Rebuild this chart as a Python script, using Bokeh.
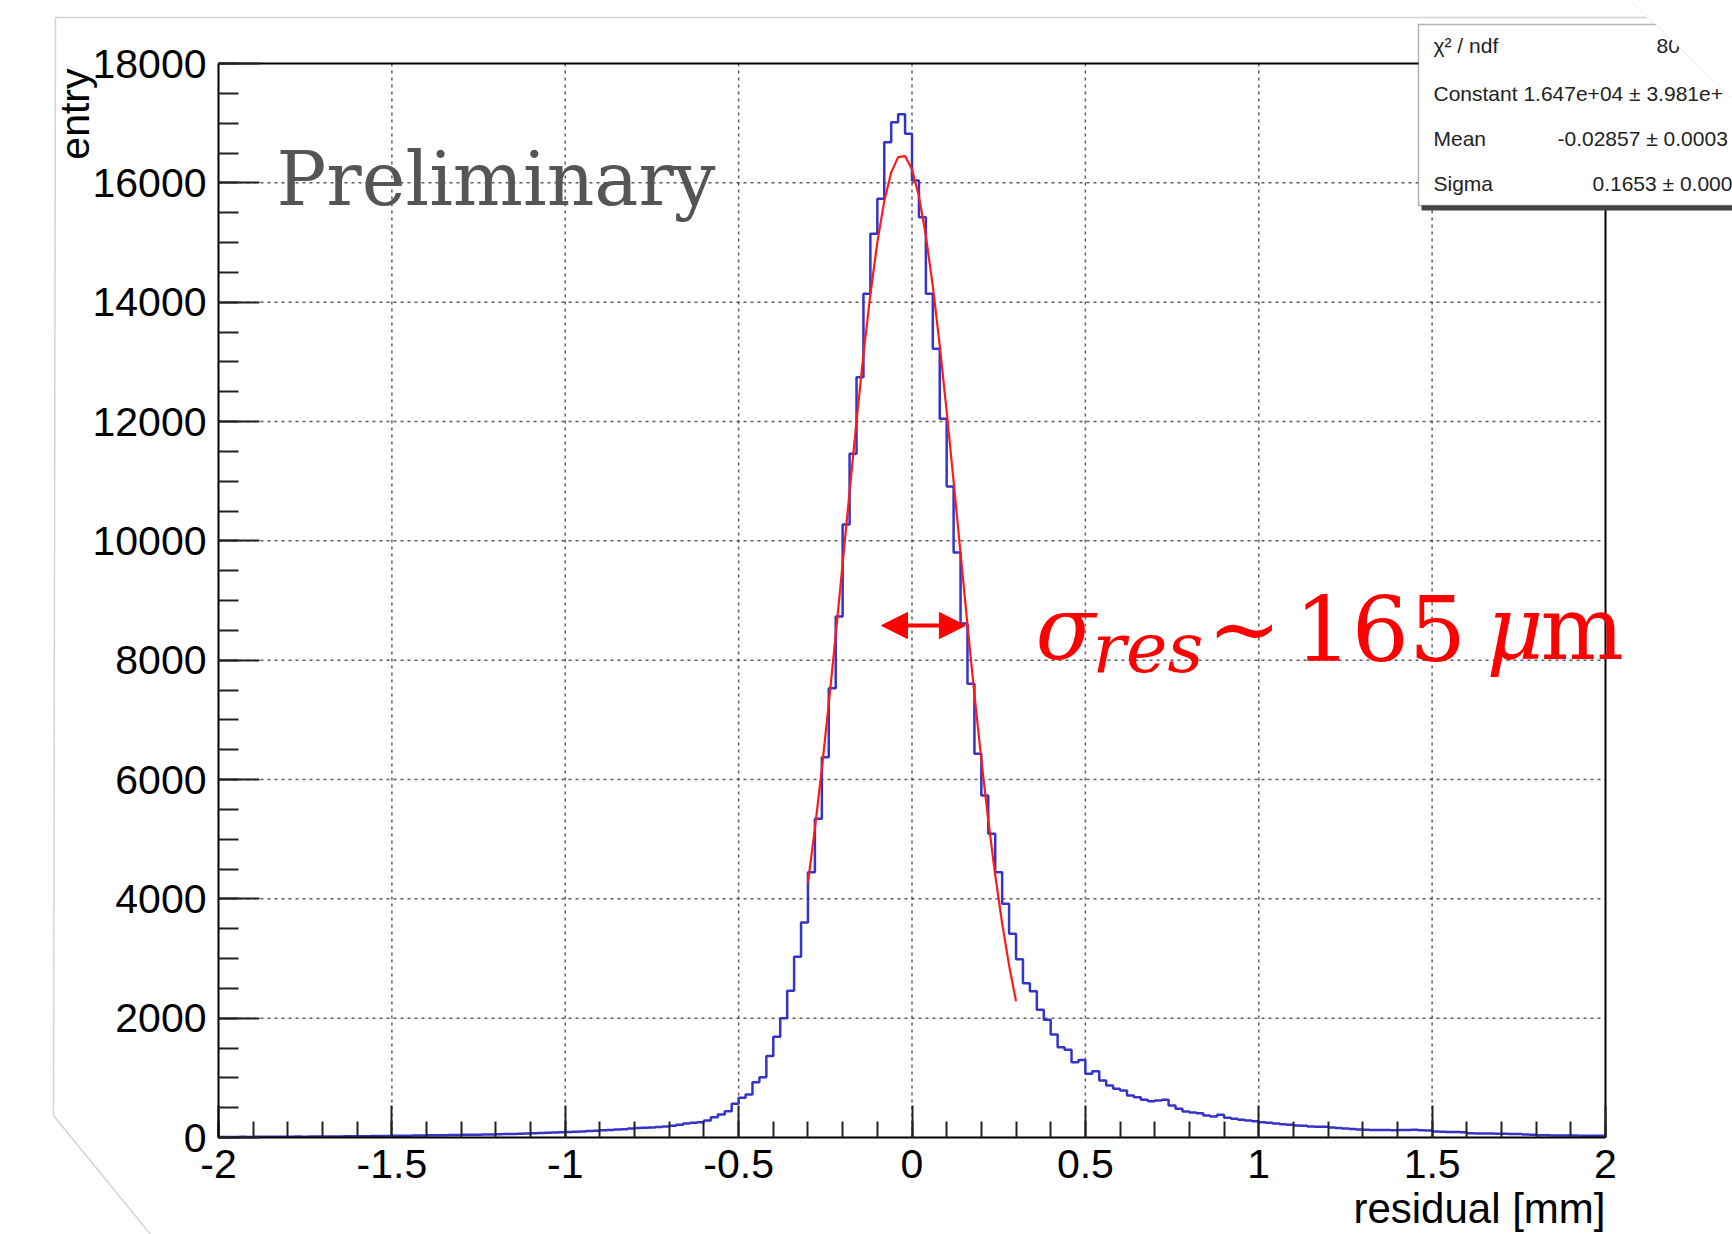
import numpy as np
from bokeh.plotting import figure
from bokeh.models import FixedTicker, Label, Arrow, NormalHead, BoxAnnotation, PolyAnnotation, Range1d
from bokeh.embed import file_html
from bokeh.resources import INLINE

# ---------------- data ----------------
bin_lo, bin_hi, n_bins = -2.0, 2.0, 200
y_top = 18000
counts = [
    8, 10, 9, 11, 10, 12, 11, 13, 12, 14,                 # -2.00 .. -1.82
    13, 15, 14, 16, 15, 17, 18, 17, 19, 20,               # -1.80 .. -1.62
    22, 23, 25, 24, 26, 28, 29, 31, 32, 34,               # -1.60 .. -1.42
    36, 38, 38, 41, 43, 44, 46, 48, 50, 52,               # -1.40 .. -1.22
    55, 58, 60, 63, 66, 70, 74, 78, 83, 88,               # -1.20 .. -1.02
    92, 97, 102, 108, 113, 120, 126, 132, 140, 150,       # -1.00 .. -0.82
    160, 163, 168, 175, 184, 196, 212, 235, 246, 257,     # -0.80 .. -0.62
    285, 341, 385, 441, 565, 665, 721, 927, 1011, 1366,   # -0.60 .. -0.42
    1690, 1998, 2458, 3028, 3604, 4447, 5341, 6374, 7531, 8732,          # -0.40 .. -0.22
    10274, 11458, 12743, 14140, 15145, 15732, 16681, 17016, 17150, 16821,  # -0.20 .. -0.02
    16039, 15424, 14140, 13218, 12045, 10910, 9804, 8614, 7604, 6430,    # 0.00 .. 0.18
    5732, 5090, 4446, 3917, 3414, 2989, 2587, 2453, 2140, 1972,          # 0.20 .. 0.38
    1726, 1514, 1469, 1262, 1300, 1067, 1112, 955, 872, 816,             # 0.40 .. 0.58
    788, 704, 676, 632, 609, 620, 632, 536, 481, 436,                    # 0.60 .. 0.78
    419, 408, 369, 352, 380, 330, 313, 297, 285, 273,                    # 0.80 .. 0.98
    257, 246, 235, 224, 212, 201, 196, 184, 179, 179,                    # 1.00 .. 1.18
    168, 158, 150, 142, 136, 130, 127, 124, 126, 122,                    # 1.20 .. 1.38
    125, 126, 128, 122, 118, 100, 96, 92, 94, 90,                        # 1.40 .. 1.58
    70, 68, 66, 65, 64, 62, 60, 58, 50, 45,                              # 1.60 .. 1.78
    38, 36, 35, 34, 33, 32, 31, 30, 30, 28,                              # 1.80 .. 1.98
]

# gaussian fit curve as drawn, x in mm
fit_x = [-0.30, -0.28, -0.26, -0.24, -0.22, -0.20, -0.18, -0.16, -0.14, -0.12,
         -0.10, -0.08, -0.06, -0.04, -0.02, 0.00, 0.02, 0.04, 0.06, 0.08,
         0.10, 0.12, 0.14, 0.16, 0.18, 0.20, 0.22, 0.24, 0.26, 0.28, 0.30]
fit_y = [4277, 5180, 6181, 7270, 8423, 9619, 10826, 12007, 13123, 14133,
         15003, 15693, 16175, 16431, 16448, 16226, 15774, 15113, 14268, 13275,
         12171, 10997, 9791, 8592, 7430, 6331, 5317, 4399, 3589, 2884, 2284]

x_ticks = [-2, -1.5, -1, -0.5, 0, 0.5, 1, 1.5, 2]
x_tick_labels = ["-2", "-1.5", "-1", "-0.5", "0", "0.5", "1", "1.5", "2"]
y_ticks = [0, 2000, 4000, 6000, 8000, 10000, 12000, 14000, 16000, 18000]
y_tick_labels = ["0", "2000", "4000", "6000", "8000", "10000", "12000", "14000", "16000", "18000"]

stats_names = ["\u03c7\u00b2 / ndf", "Constant 1.647e+04 \u00b1 3.981e+", "Mean", "Sigma"]
stats_values = ["80", "", "-0.02857 \u00b1 0.0003", "0.1653 \u00b1 0.000"]

# annotation: sigma arrow (mm, entries)
arrow_x = [-0.088, 0.154]
arrow_y = 8580

# ---------------- geometry (canvas pixels) ----------------
W, H = 1732, 1234
FL, FR, FT, FB = 218, 1605, 63, 1137          # where the histogram frame sits
px_x = (FR - FL) / (bin_hi - bin_lo)          # px per mm
px_y = (FB - FT) / y_top                      # px per entry
x_range = Range1d(bin_lo - FL / px_x, bin_hi + (W - FR) / px_x)
y_range = Range1d(-(H - FB) / px_y, y_top + FT / px_y)

def dx(xpx):
    return bin_lo + (xpx - FL) / px_x

def dy(ypx):
    return (FB - ypx) / px_y

p = figure(width=W, height=H, x_range=x_range, y_range=y_range,
           output_backend="svg", toolbar_location=None,
           min_border_left=0, min_border_right=0, min_border_top=0, min_border_bottom=0)
p.title.visible = False
p.background_fill_color = "white"
p.border_fill_color = "white"
p.outline_line_color = None
p.xgrid.visible = False
p.ygrid.visible = False

tick_font = "Liberation Sans"
xa = p.xaxis[0]
xa.fixed_location = 0
xa.bounds = (bin_lo, bin_hi)
xa.ticker = FixedTicker(ticks=x_ticks, minor_ticks=np.round(np.arange(-2, 2.001, 0.1), 2).tolist())
xa.major_label_overrides = {t: l for t, l in zip(x_ticks, x_tick_labels)}
ya = p.yaxis[0]
ya.fixed_location = bin_lo
ya.bounds = (0, y_top)
ya.ticker = FixedTicker(ticks=y_ticks, minor_ticks=list(range(0, y_top + 1, 500)))
ya.major_label_overrides = {t: l for t, l in zip(y_ticks, y_tick_labels)}
for ax, tin in ((xa, 32), (ya, 41)):
    ax.axis_line_width = 2
    ax.axis_line_color = "black"
    ax.major_tick_in = tin
    ax.major_tick_out = 0
    ax.minor_tick_in = tin // 2
    ax.minor_tick_out = 0
    ax.major_tick_line_width = 2
    ax.minor_tick_line_width = 2
    ax.major_tick_line_color = "#222222"
    ax.minor_tick_line_color = "#222222"
    ax.major_label_text_font = tick_font
    ax.major_label_text_font_size = "41px"
    ax.major_label_text_color = "black"
xa.major_label_standoff = 12
ya.major_label_standoff = 12

# faint edges of the pasted picture (top and left border, cut corner at bottom-left)
edge_px_x = [1646, 55, 53, 155]
edge_px_y = [17, 17, 1115, 1240]
p.line([dx(v) for v in edge_px_x], [dy(v) for v in edge_px_y], line_color="#d4d4d4", line_width=1.5)

# dotted grid inside the frame
gx = x_ticks[1:-1]
gy = y_ticks[1:-1]
grid_kw = dict(line_color="#333333", line_dash="3 4", line_width=1.5, line_alpha=0.8)
p.segment(x0=gx, y0=[0] * len(gx), x1=gx, y1=[y_top] * len(gx), **grid_kw)
p.segment(x0=[bin_lo] * len(gy), y0=gy, x1=[bin_hi] * len(gy), y1=gy, **grid_kw)

# frame: top and right borders
p.line([bin_lo, bin_hi, bin_hi], [y_top, y_top, 0], line_color="black", line_width=2)

# histogram
edges = np.linspace(bin_lo, bin_hi, n_bins + 1)
p.step(x=edges.tolist(), y=counts + [counts[-1]], mode="after", line_color="#3434c8", line_width=2.5)

# fit
p.line(fit_x, fit_y, line_color="#ff1a1a", line_width=2.2)

# Preliminary
p.add_layout(Label(x=dx(276), y=dy(204 - 26), text="Preliminary",
                   text_font="DejaVu Serif", text_font_size="74px", text_color="#555555",
                   text_baseline="alphabetic"))

# sigma arrow and annotation
p.add_layout(Arrow(x_start=arrow_x[0], y_start=arrow_y, x_end=arrow_x[1], y_end=arrow_y,
                   line_color="red", line_width=4,
                   start=NormalHead(size=26, fill_color="red", line_color="red"),
                   end=NormalHead(size=26, fill_color="red", line_color="red")))
red = "#ff0000"
def red_label(xpx, base_px, text, size, italic):
    # xpx, base_px: canvas pixel of text start / baseline
    shift = 0.35 * size
    p.add_layout(Label(x=dx(xpx), y=dy(base_px - shift), text=text,
                       text_font="DejaVu Serif", text_font_style="italic" if italic else "normal",
                       text_font_size=f"{size}px", text_color=red, text_baseline="alphabetic"))
red_label(1035, 659, "\u03c3", 88, True)
red_label(1092, 672, "res", 70, True)
red_label(1207, 659, "~", 88, False)
red_label(1294, 659, "165", 90, False)
red_label(1486, 659, "\u03bc", 88, True)
red_label(1540, 659, "m", 88, False)

# axis titles (ROOT style, at the ends of the axes)
p.add_layout(Label(x=74, y=H - 68, x_units="screen", y_units="screen", text="entry",
                   angle=np.pi / 2, text_align="right", text_baseline="middle",
                   text_font=tick_font, text_font_size="41px", text_color="black"))
p.add_layout(Label(x=FR, y=H - 1223 + 0.35 * 42, x_units="screen", y_units="screen", text="residual [mm]",
                   text_align="right", text_baseline="alphabetic",
                   text_font=tick_font, text_font_size="42px", text_color="black"))

# stats box
bx_l, bx_t, bx_b = 1418, 24, 205
box_kw = dict(left_units="screen", right_units="screen", top_units="screen", bottom_units="screen",
              level="overlay")
p.add_layout(BoxAnnotation(left=bx_l + 3, right=W + 20, top=H - bx_t - 4, bottom=H - bx_b - 5,
                           fill_color="#444444", fill_alpha=1.0, line_color=None, **box_kw))
p.add_layout(BoxAnnotation(left=bx_l, right=W + 20, top=H - bx_t, bottom=H - bx_b,
                           fill_color="white", fill_alpha=1.0, line_color="black", line_width=1.5, **box_kw))
row_y = [45, 93, 138, 183]
val_x = [1656, None, 1557, 1592]
for name, val, ry, vx in zip(stats_names, stats_values, row_y, val_x):
    p.add_layout(Label(x=1433, y=H - ry, x_units="screen", y_units="screen", text=name,
                       text_baseline="middle", text_font=tick_font, text_font_size="21px",
                       text_color="#222222", level="overlay"))
    if val:
        p.add_layout(Label(x=vx, y=H - ry, x_units="screen", y_units="screen", text=val,
                           text_baseline="middle", text_font=tick_font, text_font_size="21px",
                           text_color="#222222", level="overlay"))

# the reference picture is cut diagonally at its top-right corner
p.add_layout(PolyAnnotation(xs=[1628, W + 10, W + 10], ys=[H + 2, H + 2, H - 108],
                            xs_units="screen", ys_units="screen", fill_color="white", fill_alpha=1.0,
                            line_color="#bbbbbb", line_width=1, level="overlay"))

open("out.html", "w").write(file_html(p, INLINE))
